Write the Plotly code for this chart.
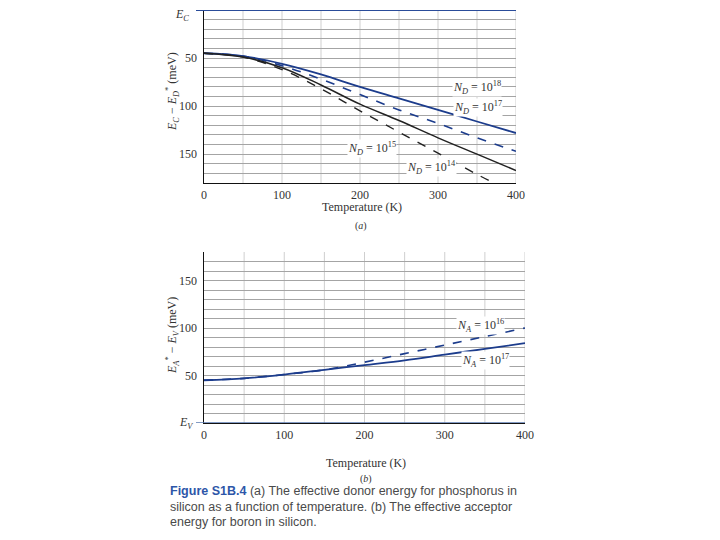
import plotly.graph_objects as go

# ---------------- data (a): effective donor energy ----------------
T_a = [0, 50, 100, 150, 200, 250, 300, 350, 400]
ND_1e18 = [45, 48, 56, 67, 80, 92, 104, 116, 128]
ND_1e17 = [45, 48, 58, 72, 88, 104, 118, 133, 147]
ND_1e15 = [45, 49, 60, 78, 98, 115, 133, 150, 167]
T_a14 = [0, 50, 100, 150, 200, 250, 300, 350, 372]
ND_1e14 = [45, 49, 62, 82, 105, 127, 149, 171, 180]

# ---------------- data (b): effective acceptor energy ----------------
T_b = [0, 50, 100, 150, 200, 250, 300, 350, 400]
NA_1e17 = [45, 47, 51, 56, 61, 66, 72, 78, 84]
NA_1e16 = [45, 47, 51, 56, 64, 73, 82, 91, 100]

x_ticks = [0, 100, 200, 300, 400]
y_ticks = [50, 100, 150]

BLUE = "#1c3c8c"
BLACK = "#222222"
SERIF = "Liberation Serif"

fig = go.Figure()
fig.add_trace(go.Scatter(x=T_a, y=ND_1e18, mode="lines", line=dict(color=BLUE, width=1.8, shape="spline"), xaxis="x", yaxis="y"))
fig.add_trace(go.Scatter(x=T_a, y=ND_1e17, mode="lines", line=dict(color=BLUE, width=1.6, dash="dash", shape="spline"), xaxis="x", yaxis="y"))
fig.add_trace(go.Scatter(x=T_a, y=ND_1e15, mode="lines", line=dict(color=BLACK, width=1.5, shape="spline"), xaxis="x", yaxis="y"))
fig.add_trace(go.Scatter(x=T_a14, y=ND_1e14, mode="lines", line=dict(color=BLACK, width=1.4, dash="dash", shape="spline"), xaxis="x", yaxis="y"))

fig.add_trace(go.Scatter(x=T_b, y=NA_1e17, mode="lines", line=dict(color=BLUE, width=1.8, shape="spline"), xaxis="x2", yaxis="y2"))
fig.add_trace(go.Scatter(x=T_b, y=NA_1e16, mode="lines", line=dict(color=BLUE, width=1.6, dash="dash", shape="spline"), xaxis="x2", yaxis="y2"))

W, H = 720, 540
OFF = 8  # page body margin of the html page
def px(x):
    return (x - OFF) / W
def py(y):
    return 1 - (y - OFF) / H

def xaxis_cfg(domain, anchor):
    return dict(domain=domain, range=[0, 400], anchor=anchor, automargin=False,
                tickmode="array", tickvals=x_ticks,
                showgrid=False, showline=True, linecolor="#111", linewidth=1.2, ticks="",
                tickfont=dict(family=SERIF, size=12, color="#333"), zeroline=False)

def yaxis_cfg(domain, rng, anchor):
    return dict(domain=domain, range=rng, anchor=anchor, automargin=False,
                tickmode="linear", tick0=0, dtick=10, showticklabels=False,
                showgrid=True, gridcolor="#a4a4a4", gridwidth=1,
                showline=True, linecolor="#111", linewidth=1.2, ticks="", zeroline=False)

fig.update_layout(
    width=W, height=H, margin=dict(l=0, r=0, t=0, b=0, autoexpand=False),
    paper_bgcolor="white", plot_bgcolor="white", showlegend=False,
    xaxis=xaxis_cfg([px(204), px(516)], "y"),
    yaxis=yaxis_cfg([py(183), py(10)], [180, 0], "x"),
    xaxis2=xaxis_cfg([px(204), px(525)], "y2"),
    yaxis2=yaxis_cfg([py(423), py(252)], [0, 180], "x2"),
)

# vertical grid lines every 50 K
for xr, yr in (("x", "y"), ("x2", "y2")):
    for t in range(50, 401, 50):
        fig.add_shape(type="line", xref=xr, yref=yr + " domain", x0=t, x1=t, y0=0, y1=1,
                      line=dict(color="#cfcfcf", width=1), layer="below")

# E_C and E_V reference lines
fig.add_shape(type="line", xref="paper", yref="y", x0=px(196), x1=px(516), y0=0, y1=0,
              line=dict(color="#2a4c9a", width=2))
fig.add_shape(type="line", xref="paper", yref="y2", x0=px(196), x1=px(525), y0=0, y1=0,
              line=dict(color="#5a7ab0", width=1.5))

ann = []
def lab(x, y, text, xref="x", yref="y", size=12):
    ann.append(dict(x=x, y=y, xref=xref, yref=yref, text=text, showarrow=False,
                    xanchor="center", yanchor="middle", borderpad=0,
                    font=dict(family=SERIF, size=size, color="#333"), bgcolor="white"))

# y tick labels
for v in y_ticks:
    for yr in ("y", "y2"):
        ann.append(dict(x=px(199), y=v, xref="paper", yref=yr, text=str(v), showarrow=False,
                        xanchor="right", yanchor="middle",
                        font=dict(family=SERIF, size=12, color="#333")))
ann.append(dict(x=px(182), y=py(15), xref="paper", yref="paper", text="<i>E<sub>C</sub></i>", showarrow=False,
                xanchor="center", yanchor="middle", font=dict(family=SERIF, size=12, color="#333")))
ann.append(dict(x=px(186), y=0, xref="paper", yref="y2", text="<i>E<sub>V</sub></i>", showarrow=False,
                xanchor="center", yanchor="middle", font=dict(family=SERIF, size=12, color="#333")))

lab(350, 81, "<i>N<sub>D</sub></i> = 10<sup>18</sup>")
lab(351, 101, "<i>N<sub>D</sub></i> = 10<sup>17</sup>")
lab(215, 144, "<i>N<sub>D</sub></i> = 10<sup>15</sup>")
lab(292, 164, "<i>N<sub>D</sub></i> = 10<sup>14</sup>")
lab(344, 103, "<i>N<sub>A</sub></i> = 10<sup>16</sup>", xref="x2", yref="y2")
lab(351, 66, "<i>N<sub>A</sub></i> = 10<sup>17</sup>", xref="x2", yref="y2")

def plab(x, y, text, size=11, angle=0, family=SERIF, color="#333", xanchor="center"):
    ann.append(dict(x=px(x), y=py(y), xref="paper", yref="paper", text=text, showarrow=False,
                    textangle=angle, xanchor=xanchor, yanchor="middle",
                    font=dict(family=family, size=size, color=color)))

plab(172, 92, "<i>E<sub>C</sub></i> − <i>E<sub>D</sub></i><sup>*</sup> (meV)", size=12, angle=-90)
plab(172, 336, "<i>E<sub>A</sub></i><sup>*</sup> − <i>E<sub>V</sub></i> (meV)", size=12, angle=-90)
plab(362, 207, "Temperature (K)", size=12)
plab(366, 463, "Temperature (K)", size=12)
plab(361, 226, "(<i>a</i>)", size=10)
plab(366, 479, "(<i>b</i>)", size=10)

SANS = "Liberation Sans"
plab(168, 491, "<b><span style='color:#2d56a8'>Figure S1B.4</span></b> (a) The effective donor energy for phosphorus in",
     size=12.5, family=SANS, color="#4a4a4a", xanchor="left")
plab(168, 507, "silicon as a function of temperature. (b) The effective acceptor",
     size=12.5, family=SANS, color="#4a4a4a", xanchor="left")
plab(168, 522, "energy for boron in silicon.",
     size=12.5, family=SANS, color="#4a4a4a", xanchor="left")

fig.update_layout(annotations=ann)
fig.write_html("out.html")
